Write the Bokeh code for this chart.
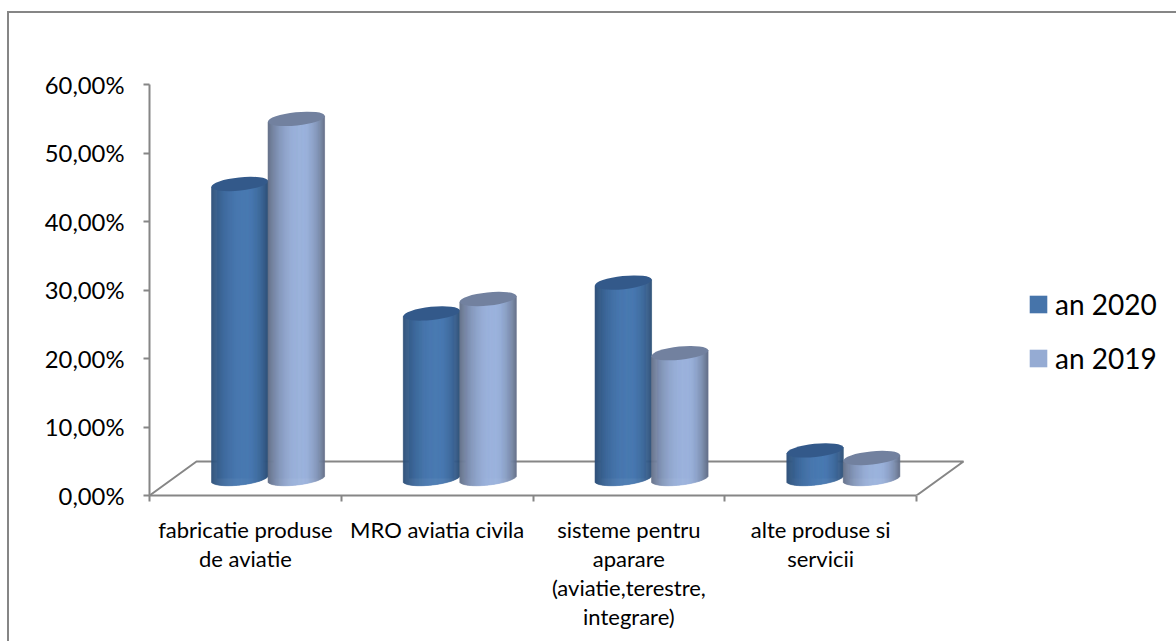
import math
from bokeh.plotting import figure
from bokeh.embed import file_html
from bokeh.resources import INLINE
from bokeh.models import (FixedTicker, Legend, LegendItem, Range1d)

categories = ["fabricatie produse\nde aviatie", "MRO aviatia civila",
              "sisteme pentru\naparare\n(aviatie,terestre,\nintegrare)", "alte produse si\nservicii"]
an_2020 = [43.0, 24.1, 28.6, 4.1]
an_2019 = [52.5, 26.2, 18.3, 3.0]
series_names = ["an 2020", "an 2019"]
y_ticks = [0, 10, 20, 30, 40, 50, 60]
y_labels = ["0,00%", "10,00%", "20,00%", "30,00%", "40,00%", "50,00%", "60,00%"]

GRAY = "#868686"
PX_X, PX_Y = 191.75, 6.85          # pixels per data unit
FIG_W, FIG_H = 1176, 641
LEFT, BOTTOM = 149, 146
FONT = "Lato"

p = figure(width=FIG_W, height=FIG_H, output_backend="svg", toolbar_location=None,
           x_range=Range1d(0, (FIG_W - LEFT) / PX_X), y_range=Range1d(0, (FIG_H - BOTTOM) / PX_Y),
           min_border_left=LEFT, min_border_right=0, min_border_top=0, min_border_bottom=BOTTOM,
           background_fill_color=None, border_fill_color=None, outline_line_color=None)
p.grid.visible = False
# outer chart border: only its left and top sides reach the picture
p.styles = {"background-color": "white",
            "background-image": f"linear-gradient({GRAY},{GRAY}), linear-gradient({GRAY},{GRAY})",
            "background-size": "2px 100%, 100% 2px",
            "background-position": "7px 11px, 7px 11px",
            "background-repeat": "no-repeat"}

# y axis
ya = p.yaxis[0]
ya.ticker = FixedTicker(ticks=y_ticks)
ya.major_label_overrides = dict(zip(y_ticks, y_labels))
ya.bounds = (0, 60)
ya.minor_tick_line_color = None
ya.major_tick_in, ya.major_tick_out = 0, 6
ya.axis_line_color = GRAY; ya.axis_line_width = 2
ya.major_tick_line_color = GRAY; ya.major_tick_line_width = 2
ya.major_label_text_font = FONT; ya.major_label_text_font_size = "23.8px"
ya.major_label_text_color = "black"; ya.major_label_standoff = 19

# x axis: labels at the slot centres, ticks between slots
xa = p.xaxis[0]
slots = list(range(len(categories) + 1))
centres = [i + 0.5 for i in range(len(categories))]
xa.ticker = FixedTicker(ticks=centres, minor_ticks=slots)
xa.major_label_overrides = dict(zip(centres, categories))
xa.bounds = (0, len(categories))
xa.axis_line_color = GRAY; xa.axis_line_width = 2
xa.major_tick_line_color = None
xa.major_tick_in, xa.major_tick_out = 0, 0
xa.minor_tick_line_color = GRAY; xa.minor_tick_line_width = 2
xa.minor_tick_in, xa.minor_tick_out = 0, 6
xa.major_label_text_font = FONT; xa.major_label_text_font_size = "22px"
xa.major_label_text_color = "black"; xa.major_label_standoff = 14
xa.major_label_text_line_height = 1.08
xa.major_label_orientation = "horizontal"

# floor of the 3D box
dx_floor, dy_floor = 47 / PX_X, 34 / PX_Y
n = len(categories)
p.line([0, dx_floor, n + dx_floor, n], [0, dy_floor, dy_floor, 0], line_color=GRAY, line_width=2)

# cylinders
depth_x = 22.7 / PX_X
base_y = 17 / PX_Y
bar_w = 56.5 / PX_X
tilt = 0.105
minor_px = 6.6
major_px = 28.5
N = 56

def mix(a, b, s):
    return "#%02x%02x%02x" % tuple(round(a[k] + (b[k] - a[k]) * s) for k in range(3))

styles = [dict(edge=(44, 78, 118), mid=(74, 122, 178), top="#33598a", legend="#4674aa"),
          dict(edge=(98, 110, 135), mid=(156, 179, 221), top="#72819f", legend="#95abd3")]
renderers = []
for j, values in enumerate([an_2020, an_2019]):
    st = styles[j]
    xc = [i + 0.5 + depth_x + (j - 0.5) * bar_w for i in range(n)]
    ytop = [v + base_y for v in values]
    # plain bar body carrying the series colour (covered by the shaded strips)
    r = p.vbar(x=xc, top=ytop, bottom=base_y, width=bar_w * 0.8, fill_color=st["legend"], line_color=None)
    renderers.append(r)
    L, R, T, B, C = [], [], [], [], []
    for cx, v in zip(xc, ytop):
        for k in range(N):
            t0, t1 = k / N, (k + 1) / N
            tm = (t0 + t1) / 2
            d_px = (tm - 0.5) * 2 * major_px
            L.append(cx - bar_w / 2 + bar_w * t0)
            R.append(cx - bar_w / 2 + bar_w * t1)
            T.append(v + tilt * d_px / PX_Y)
            B.append(base_y + (tilt * d_px - minor_px * math.sqrt(max(0, 1 - (d_px / major_px) ** 2))) / PX_Y)
            peak = 0.6
            u = (tm - peak) / (peak if tm < peak else 1 - peak)
            C.append(mix(st["edge"], st["mid"], 1 - abs(u) ** 2.2))
    p.quad(left=L, right=R, top=T, bottom=B, fill_color=C, line_color=C, line_width=0.6)
    p.ellipse(x=xc, y=ytop, width=2 * major_px, height=2 * minor_px, angle=tilt,
              width_units="screen", height_units="screen", fill_color=st["top"], line_color=None)

legend = Legend(items=[LegendItem(label=series_names[0], renderers=[renderers[0]]),
                       LegendItem(label=series_names[1], renderers=[renderers[1]])],
                location=(878, 120), orientation="vertical",
                background_fill_alpha=0, border_line_color=None, padding=0, margin=0,
                glyph_width=22, glyph_height=22, label_standoff=6, label_height=30, spacing=20,
                label_text_font=FONT, label_text_font_size="28px", label_text_color="black")
p.add_layout(legend, "center")

open("out.html", "w").write(file_html(p, INLINE))
